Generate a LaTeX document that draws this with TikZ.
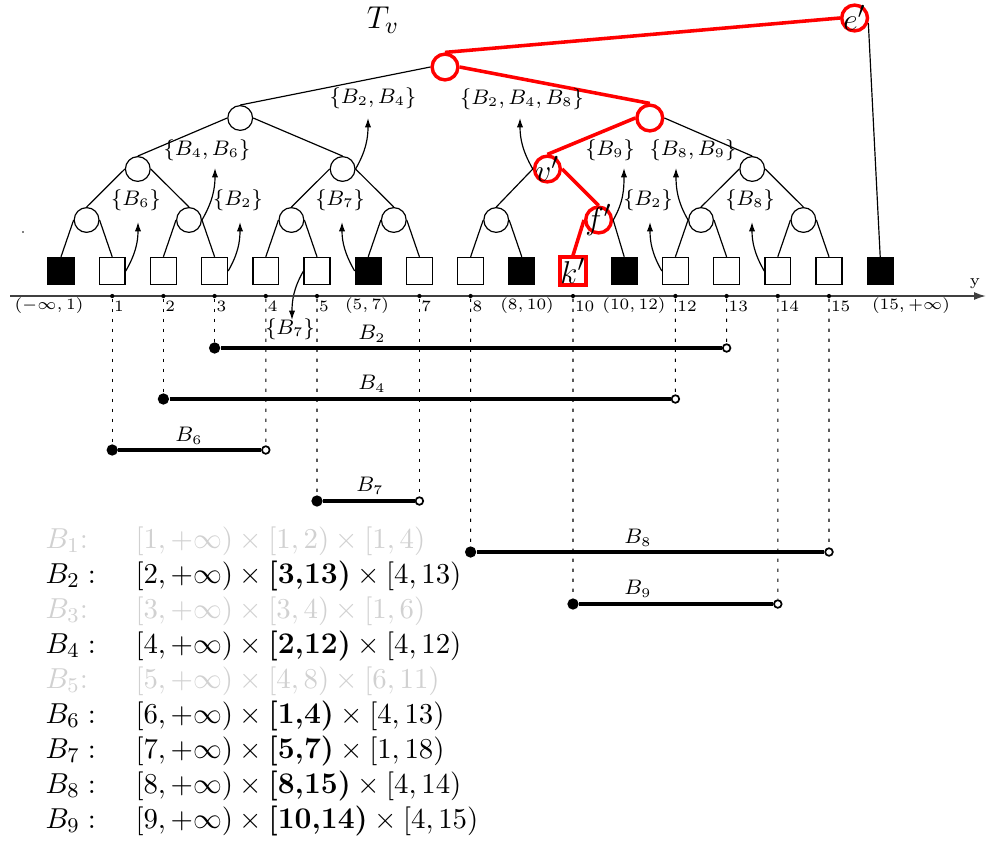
\documentclass[tikz,border=0pt]{standalone}
\usetikzlibrary{arrows.meta}
\begin{document}
\begin{tikzpicture}[x=0.38pt,y=-0.38pt,
  inode/.style={circle,draw,minimum size=9.4pt,inner sep=0pt,line width=0.45pt},
  rnode/.style={circle,draw=red,line width=1.3pt,minimum size=9.8pt,inner sep=0pt},
  leafw/.style={draw,minimum width=9.8pt,minimum height=10.3pt,inner sep=0pt,line width=0.5pt},
  leafb/.style={leafw,fill=black},
  leafr/.style={draw=red,line width=1.3pt,minimum width=9.8pt,minimum height=10.6pt,inner sep=0pt},
  nlabel/.style={label={[font=\fontsize{13}{15}\selectfont,inner sep=0pt]center:#1}},
  treeline/.style={line width=0.45pt},
  redline/.style={red,line width=1.35pt},
  setlbl/.style={font=\fontsize{7.6}{9}\selectfont,inner sep=0pt},
  setarrow/.style={line width=0.45pt,-{Latex[length=3.6pt,width=2.4pt]}},
  axlbl/.style={font=\fontsize{6}{7}\selectfont,inner sep=0pt},
  axdot/.style={circle,fill,inner sep=0pt,minimum size=1.6pt},
  axisline/.style={black!75,line width=0.65pt,-{Latex[length=4.5pt,width=3pt]}},
  guide/.style={line width=0.4pt,dash pattern=on 1.2pt off 2.6pt},
  seg/.style={line width=1.3pt},
  closedend/.style={circle,fill,inner sep=0pt,minimum size=4.3pt},
  openend/.style={circle,draw,fill=white,inner sep=0pt,minimum size=2.9pt,line width=0.65pt},
  seglbl/.style={font=\fontsize{7.6}{9}\selectfont,inner sep=0pt},
  listrow/.style={anchor=base west,inner sep=0pt,font=\fontsize{11.4}{13.6}\selectfont},
  faded/.style={listrow,text=black!18},
]
\useasboundingbox (0,0) rectangle (987,842);

% leaves (elementary intervals of the y axis)
\foreach \i/\st in {1/leafb,2/leafw,3/leafw,4/leafw,5/leafw,6/leafw,7/leafb,8/leafw,9/leafw,
                    10/leafb,12/leafb,13/leafw,14/leafw,15/leafw,16/leafw,17/leafb}
  \node[\st] (l\i) at ({61+51.2*(\i-1)},271) {};
\node[leafr,nlabel={$k'$}] (l11) at (573,271) {};

% internal nodes of T_v
\node[inode] (a1) at (86.6,220) {};
\node[inode] (a2) at (189,220) {};
\node[inode] (a3) at (291.4,220) {};
\node[inode] (a4) at (393.8,220) {};
\node[inode] (a5) at (496.2,220) {};
\node[rnode,nlabel={$f'$}] (a6) at (598.6,220) {};
\node[inode] (a7) at (701,220) {};
\node[inode] (a8) at (803.4,220) {};
\node[inode] (b1) at (137.8,169) {};
\node[inode] (b2) at (342.6,169) {};
\node[rnode,nlabel={$v'$}] (b3) at (547.4,169) {};
\node[inode] (b4) at (752.2,169) {};
\node[inode] (c1) at (240.2,118) {};
\node[rnode] (c2) at (649.8,118) {};
\node[rnode] (r) at (445,67) {};
\node[rnode,nlabel={$e'$}] (e) at (854.6,18) {};
\node[font=\fontsize{12.5}{15}\selectfont] (tv) at (383,20) {$T_v$};

% tree edges
\draw[treeline] (r.west) -- (c1.north);
\draw[redline] (r.north) -- (e.west);
\draw[redline] (r.east) -- (c2.north);
\draw[treeline] (c1.west) -- (b1.north);
\draw[treeline] (c1.east) -- (b2.north);
\draw[redline] (c2.west) -- (b3.north);
\draw[treeline] (c2.east) -- (b4.north);
\draw[treeline] (b1.west) -- (a1.north);
\draw[treeline] (b1.east) -- (a2.north);
\draw[treeline] (b2.west) -- (a3.north);
\draw[treeline] (b2.east) -- (a4.north);
\draw[treeline] (b3.west) -- (a5.north);
\draw[redline] (b3.east) -- (a6.north);
\draw[treeline] (b4.west) -- (a7.north);
\draw[treeline] (b4.east) -- (a8.north);
\draw[treeline] (a1.west) -- (l1.north);
\draw[treeline] (a1.east) -- (l2.north);
\draw[treeline] (a2.west) -- (l3.north);
\draw[treeline] (a2.east) -- (l4.north);
\draw[treeline] (a3.west) -- (l5.north);
\draw[treeline] (a3.east) -- (l6.north);
\draw[treeline] (a4.west) -- (l7.north);
\draw[treeline] (a4.east) -- (l8.north);
\draw[treeline] (a5.west) -- (l9.north);
\draw[treeline] (a5.east) -- (l10.north);
\draw[redline] (a6.west) -- (l11.north);
\draw[treeline] (a6.east) -- (l12.north);
\draw[treeline] (a7.west) -- (l13.north);
\draw[treeline] (a7.east) -- (l14.north);
\draw[treeline] (a8.west) -- (l15.north);
\draw[treeline] (a8.east) -- (l16.north);
\draw[treeline] (e.-20) -- (l17.north);

% canonical sets stored at the nodes
\node[setlbl] (s1) at (136,200) {$\{B_6\}$};
\node[setlbl] (s2) at (238,200) {$\{B_2\}$};
\node[setlbl] (s3) at (207,150) {$\{B_4,B_6\}$};
\node[setlbl] (s4) at (340,200) {$\{B_7\}$};
\node[setlbl] (s5) at (373,98) {$\{B_2,B_4\}$};
\node[setlbl] (s6) at (290,329) {$\{B_7\}$};
\node[setlbl] (s7) at (522,99) {$\{B_2,B_4,B_8\}$};
\node[setlbl] (s8) at (610,150) {$\{B_9\}$};
\node[setlbl] (s9) at (693,150) {$\{B_8,B_9\}$};
\node[setlbl] (s10) at (648,200) {$\{B_2\}$};
\node[setlbl] (s11) at (750,200) {$\{B_8\}$};
\coordinate (t1) at (138,222);
\coordinate (t2) at (240,222);
\coordinate (t3) at (215,168);
\coordinate (t4) at (342,222);
\coordinate (t5) at (368,118);
\coordinate (t6) at (292,320);
\coordinate (t7) at (520,118);
\coordinate (t8) at (624,168);
\coordinate (t9) at (676,168);
\coordinate (t10) at (650,222);
\coordinate (t11) at (752,222);
\draw[setarrow] (l2.east) to[out=60,in=-90] (t1);
\draw[setarrow] (l4.east) to[out=60,in=-90] (t2);
\draw[setarrow] (a2.east) to[out=60,in=-90] (t3);
\draw[setarrow] (l7.west) to[out=120,in=-90] (t4);
\draw[setarrow] (b2.east) to[out=60,in=-90] (t5);
\draw[setarrow] (l6.west) to[out=-120,in=90] (t6);
\draw[setarrow] (b3.west) to[out=120,in=-90] (t7);
\draw[setarrow] (a6.east) to[out=60,in=-90] (t8);
\draw[setarrow] (a7.west) to[out=120,in=-90] (t9);
\draw[setarrow] (l13.west) to[out=120,in=-90] (t10);
\draw[setarrow] (l15.west) to[out=120,in=-90] (t11);

% y axis
\coordinate (y0) at (10,296);
\coordinate (y1) at (986,296);
\draw[axisline] (y0) -- (y1);
\node[axlbl] (ylbl) at (975,284) {y};
\foreach \i/\t in {2/1,3/2,4/3,5/4,6/5,8/7,9/8,11/10,13/12,14/13,15/14,16/15} {
  \node[axdot] (k\i) at ({61+51.2*(\i-1)},296) {};
  \node[axlbl,anchor=north west] (kl\i) at ({62.5+51.2*(\i-1)},300.5) {$\t$};
}
\node[axlbl] (g1) at (49,306) {$(-\infty,1)$};
\node[axlbl] (g7) at (367,306) {$(5,7)$};
\node[axlbl] (g10) at (527,306) {$(8,10)$};
\node[axlbl] (g12) at (634,306) {$(10,12)$};
\node[axlbl] (g17) at (911,306) {$(15,+\infty)$};

% projections of the boxes on the y axis
\node[closedend] (p2) at (214.6,348) {};  \node[openend] (q2) at (726.6,348) {};
\node[closedend] (p4) at (163.4,399) {};  \node[openend] (q4) at (675.4,399) {};
\node[closedend] (p6) at (112.2,450) {};  \node[openend] (q6) at (265.8,450) {};
\node[closedend] (p7) at (317,501) {};    \node[openend] (q7) at (419.4,501) {};
\node[closedend] (p8) at (470.6,552) {};  \node[openend] (q8) at (829,552) {};
\node[closedend] (p9) at (573,604) {};    \node[openend] (q9) at (777.8,604) {};
\foreach \k/\p in {4/p2,14/q2,3/p4,13/q4,2/p6,5/q6,6/p7,8/q7,9/p8,16/q8,11/p9,15/q9}
  \draw[guide] (k\k) -- (\p);
\foreach \n in {2,4,6,7,8,9}
  \draw[seg] (p\n) -- (q\n);
\node[seglbl] (m2) at (372,334) {$B_2$};
\node[seglbl] (m4) at (372,384) {$B_4$};
\node[seglbl] (m6) at (189,436) {$B_6$};
\node[seglbl] (m7) at (370,486) {$B_7$};
\node[seglbl] (m8) at (638,538) {$B_8$};
\node[seglbl] (m9) at (638,589) {$B_9$};

% list of boxes
\node[faded] (n1) at (45,548) {$B_1$:};
\node[faded] (w1) at (135,548) {$[1,+\infty)\times[1,2)\times[1,4)$};
\node[listrow] (n2) at (45,583) {$B_2:$};
\node[listrow] (w2) at (135,583) {$[2,+\infty)\times\mbox{\bfseries[3,13)}\times[4,13)$};
\node[faded] (n3) at (45,618) {$B_3$:};
\node[faded] (w3) at (135,618) {$[3,+\infty)\times[3,4)\times[1,6)$};
\node[listrow] (n4) at (45,653) {$B_4:$};
\node[listrow] (w4) at (135,653) {$[4,+\infty)\times\mbox{\bfseries[2,12)}\times[4,12)$};
\node[faded] (n5) at (45,688) {$B_5$:};
\node[faded] (w5) at (135,688) {$[5,+\infty)\times[4,8)\times[6,11)$};
\node[listrow] (n6) at (45,723) {$B_6:$};
\node[listrow] (w6) at (135,723) {$[6,+\infty)\times\mbox{\bfseries[1,4)}\times[4,13)$};
\node[listrow] (n7) at (45,758) {$B_7:$};
\node[listrow] (w7) at (135,758) {$[7,+\infty)\times\mbox{\bfseries[5,7)}\times[1,18)$};
\node[listrow] (n8) at (45,793) {$B_8:$};
\node[listrow] (w8) at (135,793) {$[8,+\infty)\times\mbox{\bfseries[8,15)}\times[4,14)$};
\node[listrow] (n9) at (45,828) {$B_9:$};
\node[listrow] (w9) at (135,828) {$[9,+\infty)\times\mbox{\bfseries[10,14)}\times[4,15)$};

% stray mark left of the tree
\fill (23,232) circle (0.3pt);
\end{tikzpicture}
\end{document}
